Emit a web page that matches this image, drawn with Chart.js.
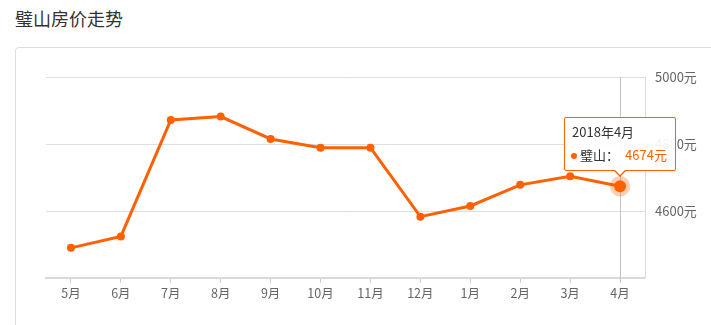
<!DOCTYPE html>
<html>
<head>
<meta charset="utf-8">
<script src="https://cdn.jsdelivr.net/npm/chart.js@4/dist/chart.umd.min.js"></script>
<style>
  html, body { margin: 0; padding: 0; background: #fff; }
  body { width: 711px; height: 325px; position: relative; overflow: hidden;
         font-family: "Noto Sans CJK SC", "Noto Sans", sans-serif; }
  #title { position: absolute; left: 15px; top: 5px; font-size: 18px; color: #333; line-height: 26px; }
  #card { position: absolute; left: 15px; top: 47px; width: 760px; height: 320px;
          border: 1px solid #dcdcdc; border-radius: 4px; box-sizing: border-box; }
  #wrap { position: absolute; left: 0; top: 0; width: 711px; height: 325px; }
  #tt { position: absolute; display: none; width: 112px; height: 54px; box-sizing: border-box;
        border: 1px solid #ff6000; border-radius: 2px; background: rgba(255,255,255,0.92);
        font-size: 13px; color: #333; }
  #tt .t { position: absolute; left: 7px; top: 5px; line-height: 18px; white-space: nowrap; }
  #tt .b { position: absolute; left: 6px; top: 28px; line-height: 18px; white-space: nowrap; }
  #tt .dot { display: inline-block; width: 6px; height: 6px; border-radius: 50%; background: #ff6000;
             margin-right: 3px; vertical-align: 1px; }
  #tt .v { color: #ff6000; margin-left: 6px; }
  #tt .c1, #tt .c2 { position: absolute; width: 0; height: 0; left: 50%; }
  #tt .c1 { bottom: -7px; margin-left: -7px; border-left: 7px solid transparent; border-right: 7px solid transparent; border-top: 7px solid #ff6000; }
  #tt .c2 { bottom: -5px; margin-left: -6px; border-left: 6px solid transparent; border-right: 6px solid transparent; border-top: 6px solid #fff; }
</style>
</head>
<body>
<div id="title">璧山房价走势</div>
<div id="card"></div>
<div id="wrap"><canvas id="c" width="711" height="325"></canvas></div>
<div id="tt"><div class="t"></div><div class="b"><span class="dot"></span><span class="n"></span><span class="v"></span></div><div class="c1"></div><div class="c2"></div></div>
<script>
const periods = ['2017年5月','2017年6月','2017年7月','2017年8月','2017年9月','2017年10月','2017年11月','2017年12月','2018年1月','2018年2月','2018年3月','2018年4月'];
const monthLabels = ['5月','6月','7月','8月','9月','10月','11月','12月','1月','2月','3月','4月'];
const seriesName = '璧山';
const prices = [4490, 4524, 4872, 4882, 4815, 4789, 4789, 4583, 4615, 4678, 4704, 4674];
const yTicks = [4400, 4600, 4800, 5000];
const activeIndex = 11;

const ORANGE = '#ff6000';
const FONT = '"Noto Sans CJK SC", "Noto Sans", sans-serif';

const crosshair = {
  id: 'crosshair',
  beforeDatasetsDraw(chart) {
    const act = chart.getActiveElements();
    if (!act.length) return;
    const x = act[0].element.x;
    const ctx = chart.ctx, a = chart.chartArea;
    ctx.save();
    ctx.strokeStyle = '#c4c4c4';
    ctx.lineWidth = 1;
    ctx.beginPath();
    ctx.moveTo(Math.round(x) + 0.5, a.top);
    ctx.lineTo(Math.round(x) + 0.5, a.bottom + 5);
    ctx.stroke();
    ctx.restore();
  },
  afterDatasetsDraw(chart) {
    const act = chart.getActiveElements();
    if (!act.length) return;
    const el = act[0].element;
    const ctx = chart.ctx;
    ctx.save();
    ctx.strokeStyle = 'rgba(255,96,0,0.3)';
    ctx.lineWidth = 4.5;
    ctx.beginPath();
    ctx.arc(el.x, el.y, 8, 0, Math.PI * 2);
    ctx.stroke();
    ctx.restore();
  }
};

function externalTooltip(context) {
  const tt = context.tooltip;
  const el = document.getElementById('tt');
  if (tt.opacity === 0 || !tt.dataPoints || !tt.dataPoints.length) { el.style.display = 'none'; return; }
  const dp = tt.dataPoints[0];
  el.querySelector('.t').textContent = periods[dp.dataIndex];
  el.querySelector('.n').textContent = dp.dataset.label + '：';
  el.querySelector('.v').textContent = dp.raw + '元';
  const canvas = context.chart.canvas;
  el.style.display = 'block';
  el.style.left = (canvas.offsetLeft + tt.caretX - 56) + 'px';
  el.style.top = (canvas.offsetTop + tt.caretY - 69) + 'px';
}

const chart = new Chart(document.getElementById('c'), {
  type: 'line',
  data: {
    labels: periods,
    datasets: [{
      label: seriesName,
      data: prices,
      borderColor: ORANGE,
      backgroundColor: ORANGE,
      borderWidth: 3,
      pointRadius: 4,
      pointBackgroundColor: ORANGE,
      pointBorderWidth: 0,
      pointHoverRadius: 6,
      pointHoverBorderWidth: 0,
      pointHoverBackgroundColor: ORANGE,
      tension: 0,
      fill: false
    }]
  },
  plugins: [crosshair],
  options: {
    responsive: false,
    animation: false,
    events: [],
    devicePixelRatio: 1,
    layout: { padding: { left: 46, top: 77, right: 6, bottom: 17 } },
    plugins: {
      legend: { display: false },
      title: { display: false },
      tooltip: { enabled: false, external: externalTooltip, mode: 'index', intersect: false }
    },
    scales: {
      x: {
        offset: true,
        afterFit(s) { s.height = 30; },
        grid: { offset: false, drawOnChartArea: false, drawTicks: true, tickLength: 5, color: '#cfcfcf' },
        border: { display: true, color: '#d9d9d9', width: 2 },
        ticks: {
          padding: 3, color: '#666', font: { family: FONT, size: 12.5 }, maxRotation: 0, autoSkip: false,
          callback: (v, i) => monthLabels[i]
        }
      },
      y: {
        position: 'right',
        min: 4400, max: 5000,
        afterFit(s) { s.width = 60; },
        afterBuildTicks(s) { s.ticks = yTicks.map(v => ({ value: v })); },
        grid: { color: '#dedede', drawTicks: false, lineWidth: 1 },
        border: { display: true, color: '#dcdcdc', width: 1 },
        ticks: {
          padding: 10, color: '#666', font: { family: FONT, size: 13 },
          callback: v => v === 4400 ? '' : v + '元'
        }
      }
    }
  }
});

const act = [{ datasetIndex: 0, index: activeIndex }];
chart.setActiveElements(act);
const pt = chart.getDatasetMeta(0).data[activeIndex];
chart.tooltip.setActiveElements(act, { x: pt.x, y: pt.y });
chart.update();
</script>
</body>
</html>
